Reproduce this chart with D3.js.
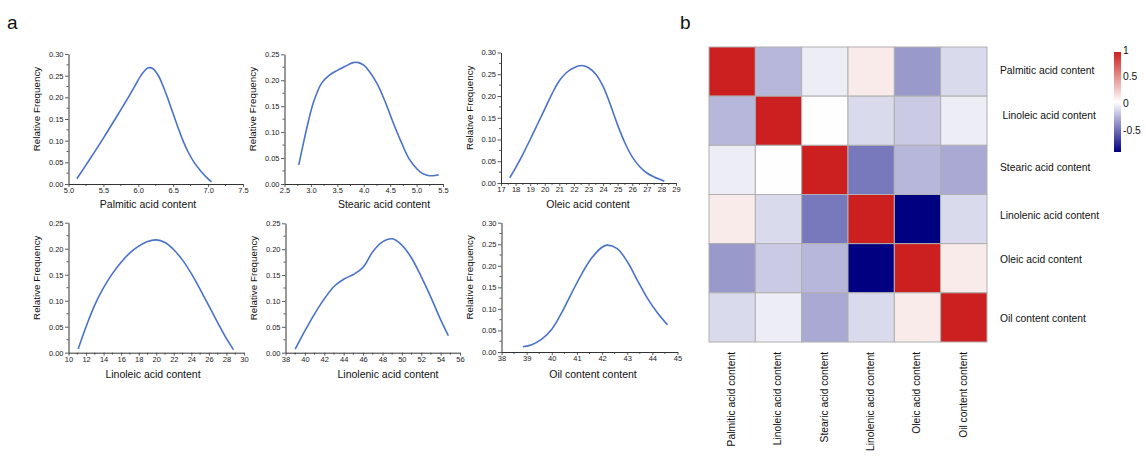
<!DOCTYPE html>
<html><head><meta charset="utf-8">
<script src="https://cdn.jsdelivr.net/npm/d3@7"></script>
<style>
body{margin:0;background:#fff}
svg{display:block;font-family:"Liberation Sans",Arial,sans-serif}
</style>
</head><body>
<svg id="c" width="1146" height="459"></svg>
<script>
// ---------- DATA ----------
const palmiticX = [5.12,5.3,5.5,5.7,5.85,5.95,6.05,6.14,6.2,6.28,6.35,6.43,6.5,6.57,6.64,6.71,6.8,6.9,7.0,7.05];
const palmiticY = [0.012,0.056,0.106,0.158,0.198,0.226,0.253,0.268,0.267,0.252,0.228,0.194,0.162,0.13,0.1,0.075,0.05,0.029,0.012,0.005];

const stearicX = [2.77,2.85,2.95,3.05,3.2,3.35,3.5,3.65,3.8,3.9,4.0,4.1,4.25,4.4,4.55,4.7,4.85,5.0,5.1,5.2,5.3,5.42];
const stearicY = [0.037,0.075,0.12,0.158,0.194,0.21,0.219,0.227,0.234,0.234,0.229,0.218,0.194,0.16,0.12,0.083,0.05,0.03,0.021,0.017,0.016,0.018];

const oleicX = [17.6,18,18.5,19,19.5,20,20.5,21,21.5,22,22.5,23,23.5,24,24.5,25,25.5,26,26.5,27,27.5,28,28.2];
const oleicY = [0.012,0.035,0.066,0.1,0.135,0.17,0.205,0.235,0.254,0.265,0.27,0.265,0.25,0.222,0.18,0.133,0.092,0.06,0.038,0.023,0.014,0.007,0.004];

const linoleicX = [11.1,12,13,14,15,16,17,18,19,20,21,22,23,24,25,26,27,28,28.8];
const linoleicY = [0.007,0.05,0.092,0.125,0.152,0.174,0.192,0.205,0.214,0.217,0.212,0.198,0.178,0.152,0.122,0.09,0.058,0.027,0.006];

const linolenicX = [39,40,41,42,43,44,45,46,47,48,49,50,51,52,53,54,54.8];
const linolenicY = [0.007,0.042,0.075,0.104,0.128,0.142,0.151,0.165,0.195,0.214,0.22,0.208,0.183,0.147,0.107,0.064,0.033];

const oilX = [38.85,39.2,39.6,40,40.4,40.8,41.2,41.6,42,42.2,42.6,43,43.4,43.8,44.2,44.6];
const oilY = [0.012,0.017,0.03,0.053,0.092,0.138,0.182,0.219,0.243,0.248,0.24,0.21,0.167,0.125,0.091,0.063];

const palmiticTicks = [5.0,5.5,6.0,6.5,7.0,7.5];
const stearicTicks = [2.5,3.0,3.5,4.0,4.5,5.0,5.5];
const oleicTicks = [17,18,19,20,21,22,23,24,25,26,27,28,29];
const linoleicTicks = [10,12,14,16,18,20,22,24,26,28,30];
const linolenicTicks = [38,40,42,44,46,48,50,52,54,56];
const oilTicks = [38,39,40,41,42,43,44,45];
const freqTicks30 = [0,0.05,0.10,0.15,0.20,0.25,0.30];
const freqTicks25 = [0,0.05,0.10,0.15,0.20,0.25];

const densityTitles = ["Palmitic acid content","Stearic acid content","Oleic acid content",
                       "Linoleic acid content","Linolenic acid content","Oil content content"];

const traits = ["Palmitic acid content","Linoleic acid content","Stearic acid content",
                "Linolenic acid content","Oleic acid content","Oil content content"];
const corr = [
  [ 1.00,-0.20, 0.00, 0.15,-0.31,-0.07],
  [-0.20, 1.00, 0.06,-0.07,-0.13, 0.00],
  [ 0.00, 0.06, 1.00,-0.43,-0.20,-0.25],
  [ 0.15,-0.07,-0.43, 1.00,-0.87,-0.07],
  [-0.31,-0.13,-0.20,-0.87, 1.00, 0.15],
  [-0.07, 0.00,-0.25,-0.07, 0.15, 1.00]
];
const legendTicks = [1,0.5,0,-0.5];

// ---------- LAYOUT ----------
const svg = d3.select("#c");
const lineColor = "#4A72C9";
const layout = [
  {x0:68.5, x1:243,  yb:184,   yt:54,    tx:148, ty:207.5},
  {x0:284.5,x1:443,  yb:184,   yt:54.3,  tx:384, ty:207.5},
  {x0:501,  x1:676,  yb:183,   yt:52.5,  tx:588, ty:207.5},
  {x0:68.5, x1:244,  yb:352.7, yt:222.7, tx:153, ty:377.5},
  {x0:285.5,x1:460,  yb:352.7, yt:223.3, tx:388, ty:377.5},
  {x0:501.5,x1:677.5,yb:352,   yt:222.7, tx:593, ty:377.5}
];
const series = [
  {xs:palmiticX, ys:palmiticY, xt:palmiticTicks, yt:freqTicks30, fmt:d3.format(".1f")},
  {xs:stearicX, ys:stearicY, xt:stearicTicks, yt:freqTicks25, fmt:d3.format(".1f")},
  {xs:oleicX, ys:oleicY, xt:oleicTicks, yt:freqTicks30, fmt:d3.format("d")},
  {xs:linoleicX, ys:linoleicY, xt:linoleicTicks, yt:freqTicks25, fmt:d3.format("d")},
  {xs:linolenicX, ys:linolenicY, xt:linolenicTicks, yt:freqTicks25, fmt:d3.format("d")},
  {xs:oilX, ys:oilY, xt:oilTicks, yt:freqTicks30, fmt:d3.format("d")}
];

// panel letters
svg.append("text").attr("x",7).attr("y",29).attr("font-size",19).attr("fill","#111").text("a");
svg.append("text").attr("x",680).attr("y",29).attr("font-size",19).attr("fill","#111").text("b");

series.forEach((s,i)=>{
  const L = layout[i];
  const x = d3.scaleLinear().domain([s.xt[0], s.xt[s.xt.length-1]]).range([L.x0, L.x1]);
  const y = d3.scaleLinear().domain([0, s.yt[s.yt.length-1]]).range([L.yb, L.yt]);
  const g = svg.append("g");

  const xMinor = s.xt.slice(0,-1).map((v,k)=>(v+s.xt[k+1])/2);
  const yMinor = s.yt.slice(0,-1).map((v,k)=>(v+s.yt[k+1])/2);
  g.selectAll(".xm").data(xMinor).join("line")
    .attr("x1",d=>x(d)).attr("x2",d=>x(d)).attr("y1",L.yb).attr("y2",L.yb+2)
    .attr("stroke","#333").attr("stroke-width",0.8);
  g.selectAll(".ym").data(yMinor).join("line")
    .attr("y1",d=>y(d)).attr("y2",d=>y(d)).attr("x1",L.x0).attr("x2",L.x0-2)
    .attr("stroke","#333").attr("stroke-width",0.8);

  const ax = g.append("g").attr("transform",`translate(0,${L.yb})`)
    .call(d3.axisBottom(x).tickValues(s.xt).tickFormat(s.fmt).tickSize(3).tickSizeOuter(0).tickPadding(1));
  const ay = g.append("g").attr("transform",`translate(${L.x0},0)`)
    .call(d3.axisLeft(y).tickValues(s.yt).tickFormat(d3.format(".2f")).tickSize(3.5).tickSizeOuter(0).tickPadding(1.5));
  [ax,ay].forEach(a=>{
    a.select(".domain").attr("stroke","#333").attr("stroke-width",1);
    a.selectAll(".tick line").attr("stroke","#333").attr("stroke-width",0.8);
    a.selectAll(".tick text").attr("font-size",7.5).attr("fill","#222")
      .attr("font-family","Liberation Sans, Arial, sans-serif");
  });

  g.append("path")
    .datum(s.xs.map((v,k)=>[v,s.ys[k]]))
    .attr("d", d3.line().x(d=>x(d[0])).y(d=>y(d[1])).curve(d3.curveCatmullRom.alpha(0.5)))
    .attr("fill","none").attr("stroke",lineColor).attr("stroke-width",1.6);

  g.append("text").attr("x",L.tx).attr("y",L.ty).attr("text-anchor","middle")
    .attr("font-size",10.5).attr("fill","#111").text(densityTitles[i]);
  const ly = (L.yb+L.yt)/2 - 10;
  g.append("text").attr("transform",`translate(${L.x0-31},${ly}) rotate(-90)`)
    .attr("text-anchor","middle").attr("dominant-baseline","middle")
    .attr("font-size",9.8).attr("fill","#111").text("Relative Frequency");
});

// ---------- HEATMAP ----------
const minC = d3.min(corr.flat());
const color = d3.scaleLinear().domain([minC,(minC+1)/2,1]).range(["#000080","#ffffff","#CC2020"]);
const hx = d3.scaleBand().domain(traits).range([709,987]);
const hy = d3.scaleBand().domain(traits).range([47,342]);
const hm = svg.append("g");
const cells = [];
corr.forEach((row,r)=>row.forEach((v,c)=>cells.push({r:traits[r],c:traits[c],v})));
hm.selectAll("rect").data(cells).join("rect")
  .attr("x",d=>hx(d.c)).attr("y",d=>hy(d.r))
  .attr("width",hx.bandwidth()).attr("height",hy.bandwidth())
  .attr("fill",d=>color(d.v)).attr("stroke","#b0b0b0").attr("stroke-width",1);

const rowDy = [0,-4,-2,-3,-8,2];
hm.selectAll(".rl").data(traits).join("text")
  .attr("x",(d,i)=> i===1 ? 1002.5 : 1000)
  .attr("y",(d,i)=>hy(d)+hy.bandwidth()/2+rowDy[i])
  .attr("dominant-baseline","middle").attr("font-size",10.3).attr("fill","#111").text(d=>d);
hm.selectAll(".cl").data(traits).join("text")
  .attr("transform",d=>`translate(${hx(d)+hx.bandwidth()/2},352) rotate(-90)`)
  .attr("text-anchor","end").attr("dominant-baseline","middle")
  .attr("font-size",10.3).attr("fill","#111").text(d=>d);

// colour legend
const ls = d3.scaleLinear().domain([minC,1]).range([152,52]);
const defs = svg.append("defs");
const grad = defs.append("linearGradient").attr("id","cg").attr("x1",0).attr("x2",0).attr("y1",1).attr("y2",0);
d3.range(0,1.0001,0.05).forEach(t=>{
  grad.append("stop").attr("offset",t).attr("stop-color",color(minC+t*(1-minC)));
});
svg.append("rect").attr("x",1114).attr("y",ls(1)).attr("width",7).attr("height",ls(minC)-ls(1)).attr("fill","url(#cg)");
svg.selectAll(".lt").data(legendTicks).join("text")
  .attr("x",1123).attr("y",d=>ls(d)-1).attr("dominant-baseline","middle")
  .attr("font-size",10.3).attr("fill","#111").text(d=>d);
</script>
</body></html>
